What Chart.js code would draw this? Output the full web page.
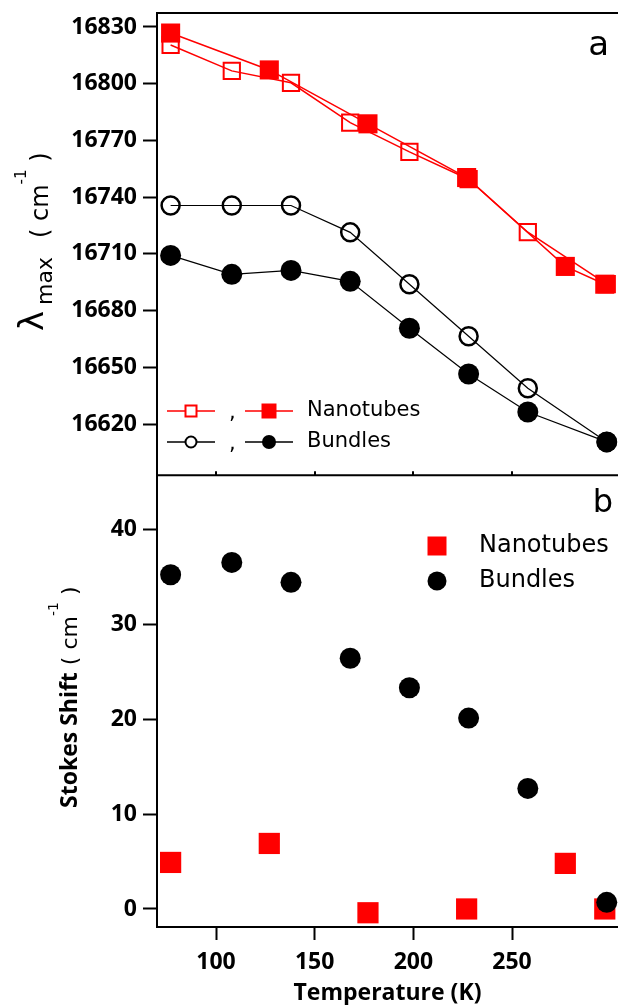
<!DOCTYPE html>
<html>
<head>
<meta charset="utf-8">
<script src="https://cdn.jsdelivr.net/npm/chart.js@4.4.0/dist/chart.umd.min.js"></script>
<style>
  html, body { margin: 0; padding: 0; background: #fff; }
  #wrap { position: relative; width: 618px; height: 1005px; overflow: hidden; }
  #topChart { position: absolute; left: 0; top: -7px; }
  #botChart { position: absolute; left: 0; top: 456px; }
</style>
</head>
<body>
<div id="wrap">
  <canvas id="topChart" width="618" height="502"></canvas>
  <canvas id="botChart" width="618" height="549"></canvas>
</div>
<script>
// temperatures (K)
const tempBundles = [77, 108, 138, 168, 198, 228, 258, 298];
const tempNanoEm = [77, 127, 177, 227, 277, 297];

// panel a: lambda max (cm-1)
const nanoAbs = [16820.5, 16806.8, 16800.5, 16779.4, 16764, 16749.5, 16721.5, 16694];
const nanoEm = [16826.8, 16807.3, 16778.8, 16750.4, 16703.4, 16694];
const bundleAbs = [16735.6, 16735.6, 16735.6, 16721.4, 16694, 16666.5, 16639, 16610.6];
const bundleEm = [16709.2, 16699.2, 16701.3, 16695.5, 16670.7, 16646.5, 16626.4, 16610.6];

// panel b: Stokes shift (cm-1)
const stokesNano = [4.9, 6.9, -0.4, 0, 4.8, 0];
const stokesBundles = [35.2, 36.5, 34.4, 26.4, 23.3, 20.1, 12.7, 0.7];

// tick labels
const lambdaTicks = [16620, 16650, 16680, 16710, 16740, 16770, 16800, 16830];
const stokesTicks = [0, 10, 20, 30, 40];
const tempTicks = [100, 150, 200, 250];

const RED = '#ff0000';
const BLACK = '#000000';
const FONT = "'DejaVu Sans', sans-serif";
const BFONT = "'Open Sans', 'DejaVu Sans', sans-serif";
const X_MIN = 70.1, X_MAX = 303.7;
const TOP_OFF = -7;   // page y of top canvas
const BOT_OFF = 456;  // page y of bottom canvas

const pts = (xs, ys) => xs.map((x, i) => ({ x: x, y: ys[i] }));

function yAxis(min, max, tickVals) {
  return {
    type: 'linear',
    min: min,
    max: max,
    afterFit: s => { s.width = 157; },
    afterBuildTicks: s => { s.ticks = tickVals.map(v => ({ value: v })); },
    ticks: {
      color: BLACK,
      padding: 6,
      font: { family: BFONT, size: 23, weight: 'bold' },
      callback: v => String(v)
    },
    grid: { drawOnChartArea: false, drawTicks: true, tickLength: 14, tickWidth: 2, tickColor: BLACK },
    border: { display: true, color: BLACK, width: 2 }
  };
}

function marker(ctx, style, x, y, size, fill, stroke, lw) {
  ctx.save();
  ctx.beginPath();
  if (style === 'rect') ctx.rect(x - size / 2, y - size / 2, size, size);
  else ctx.arc(x, y, size / 2, 0, Math.PI * 2);
  if (fill) { ctx.fillStyle = fill; ctx.fill(); }
  if (stroke) { ctx.strokeStyle = stroke; ctx.lineWidth = lw; ctx.stroke(); }
  ctx.restore();
}

function rotatedText(ctx, x, y, pieces) {
  ctx.save();
  ctx.translate(x, y);
  ctx.rotate(-Math.PI / 2);
  ctx.fillStyle = BLACK;
  ctx.textAlign = 'left';
  ctx.textBaseline = 'alphabetic';
  let pos = 0;
  pieces.forEach(p => {
    ctx.font = p[1];
    ctx.fillText(p[0], pos, p[2]);
    pos += ctx.measureText(p[0]).width + (p[3] || 0);
  });
  ctx.restore();
}

function text(ctx, str, x, y, font, align) {
  ctx.save();
  ctx.fillStyle = BLACK;
  ctx.font = font;
  ctx.textAlign = align || 'left';
  ctx.textBaseline = 'middle';
  ctx.fillText(str, x, y);
  ctx.restore();
}

const topDecor = {
  id: 'topDecor',
  afterDraw(chart) {
    const ctx = chart.ctx;
    const a = chart.chartArea;
    const xs = chart.scales.x;
    ctx.save();
    ctx.strokeStyle = BLACK;
    ctx.lineWidth = 2;
    ctx.beginPath();
    ctx.moveTo(a.left - 1, a.top); ctx.lineTo(a.right, a.top);
    ctx.moveTo(a.left - 1, a.bottom); ctx.lineTo(a.right, a.bottom);
    tempTicks.forEach(t => {
      const px = Math.round(xs.getPixelForValue(t));
      ctx.moveTo(px, a.bottom); ctx.lineTo(px, a.bottom - 4);
    });
    ctx.stroke();
    ctx.restore();

    // page coordinates from here on
    ctx.save();
    ctx.translate(0, -TOP_OFF);

    text(ctx, 'a', 609, 46, '34px ' + FONT, 'right');

    const rows = [
      { y: 411, color: RED, style: 'rect', openSize: 11, fillSize: 15, label: 'Nanotubes' },
      { y: 442, color: BLACK, style: 'circle', openSize: 11, fillSize: 14, label: 'Bundles' }
    ];
    rows.forEach(r => {
      ctx.save();
      ctx.strokeStyle = r.color;
      ctx.lineWidth = 1.5;
      ctx.beginPath();
      ctx.moveTo(167, r.y); ctx.lineTo(215, r.y);
      ctx.moveTo(245, r.y); ctx.lineTo(293, r.y);
      ctx.stroke();
      ctx.restore();
      marker(ctx, r.style, 191, r.y, r.openSize, '#ffffff', r.color, 2);
      marker(ctx, r.style, 269, r.y, r.fillSize, r.color, null, 0);
      text(ctx, ',', 229, r.y + 3, '21px ' + FONT);
      text(ctx, r.label, 307, r.y, '21px ' + FONT);
    });

    rotatedText(ctx, 48, 331, [
      ['λ', '34px ' + FONT, -5, 6],
      ['max', '22px ' + FONT, 4, 19],
      ['( cm', '24px ' + FONT, 0],
      ['-1', '15px ' + FONT, -22],
      [' )', '24px ' + FONT, 0]
    ]);
    ctx.restore();
  }
};

const botDecor = {
  id: 'botDecor',
  afterDraw(chart) {
    const ctx = chart.ctx;
    ctx.save();
    ctx.translate(0, -BOT_OFF);
    text(ctx, 'b', 613, 504, '32px ' + FONT, 'right');
    marker(ctx, 'rect', 437, 546, 19, RED, null, 0);
    marker(ctx, 'circle', 437, 581, 19, BLACK, null, 0);
    text(ctx, 'Nanotubes', 479, 546, '24px ' + FONT);
    text(ctx, 'Bundles', 479, 581, '24px ' + FONT);
    rotatedText(ctx, 77, 808, [
      ['Stokes Shift', 'bold 23px ' + BFONT, 0],
      [' ( cm', '22px ' + FONT, 0],
      ['-1', '14px ' + FONT, -19],
      [' )', '22px ' + FONT, 0]
    ]);
    ctx.restore();
  }
};

const common = {
  responsive: false,
  animation: false,
  devicePixelRatio: 1,
  events: [],
  plugins: { legend: { display: false }, tooltip: { enabled: false } }
};

new Chart(document.getElementById('topChart'), {
  type: 'scatter',
  data: {
    datasets: [
      { data: pts(tempNanoEm, nanoEm), showLine: true, borderColor: RED, borderWidth: 1.5,
        pointStyle: 'rect', pointRadius: 13.5, pointBackgroundColor: RED, pointBorderColor: RED,
        pointBorderWidth: 0, clip: false },
      { data: pts(tempBundles, nanoAbs), showLine: true, borderColor: RED, borderWidth: 1.5,
        pointStyle: 'rect', pointRadius: 11.5, pointBackgroundColor: 'rgba(0,0,0,0)', pointBorderColor: RED,
        pointBorderWidth: 2, clip: false },
      { data: pts(tempBundles, bundleEm), showLine: true, borderColor: BLACK, borderWidth: 1.2,
        pointStyle: 'circle', pointRadius: 10.5, pointBackgroundColor: BLACK, pointBorderColor: BLACK,
        pointBorderWidth: 0, clip: false },
      { data: pts(tempBundles, bundleAbs), showLine: true, borderColor: BLACK, borderWidth: 1.2,
        pointStyle: 'circle', pointRadius: 9, pointBackgroundColor: 'rgba(0,0,0,0)', pointBorderColor: BLACK,
        pointBorderWidth: 2.5, clip: false }
    ]
  },
  options: Object.assign({}, common, {
    layout: { autoPadding: false, padding: { top: 20, right: 0, bottom: 19, left: 0 } },
    scales: {
      x: { type: 'linear', min: X_MIN, max: X_MAX, display: false },
      y: yAxis(16593, 16837.4, lambdaTicks)
    }
  }),
  plugins: [topDecor]
});

new Chart(document.getElementById('botChart'), {
  type: 'scatter',
  data: {
    datasets: [
      { data: pts(tempBundles, stokesBundles), pointStyle: 'circle', pointRadius: 10.5,
        pointBackgroundColor: BLACK, pointBorderColor: BLACK, pointBorderWidth: 0, clip: false },
      { data: pts(tempNanoEm, stokesNano), pointStyle: 'rect', pointRadius: 15,
        pointBackgroundColor: RED, pointBorderColor: RED, pointBorderWidth: 0, clip: false }
    ]
  },
  options: Object.assign({}, common, {
    layout: { autoPadding: false, padding: { top: 20, right: 0, bottom: 0, left: 0 } },
    scales: {
      x: {
        type: 'linear', min: X_MIN, max: X_MAX,
        afterFit: s => { s.height = 78; },
        afterBuildTicks: s => { s.ticks = tempTicks.map(v => ({ value: v })); },
        ticks: { color: BLACK, padding: 9, font: { family: BFONT, size: 23, weight: 'bold' },
                 callback: v => String(v) },
        grid: { drawOnChartArea: false, drawTicks: true, tickLength: 13, tickWidth: 2, tickColor: BLACK },
        border: { display: true, color: BLACK, width: 2 },
        title: { display: true, text: 'Temperature (K)', color: BLACK, padding: { top: 0, bottom: -2 },
                 font: { family: BFONT, size: 23, weight: 'bold' } }
      },
      y: yAxis(-1.9, 45.6, stokesTicks)
    }
  }),
  plugins: [botDecor]
});
</script>
</body>
</html>
